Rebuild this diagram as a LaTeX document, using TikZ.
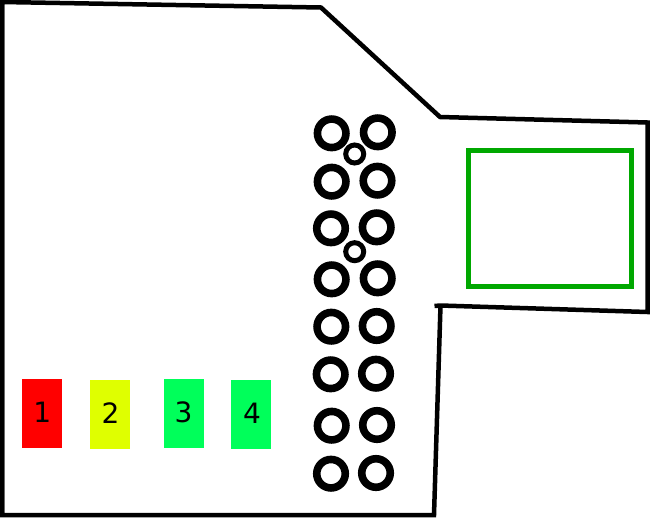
\documentclass[tikz,border=0pt]{standalone}
\usepackage{fontspec}
\setmainfont{DejaVu Sans}
\definecolor{ledred}{HTML}{FF0000}
\definecolor{ledyellow}{HTML}{DFFF00}
\definecolor{ledgreen}{HTML}{00FF5A}
\definecolor{framegreen}{HTML}{00A800}
\tikzset{
  outline/.style={draw=black,line width=4.5pt,line join=miter},
  pad/.style={circle,draw=black,line width=7.6pt,fill=white,inner sep=0pt,minimum size=28.5pt,outer sep=0pt},
  via/.style={circle,draw=black,line width=5pt,fill=white,inner sep=0pt,minimum size=18pt,outer sep=0pt},
  led/.style={rectangle,draw=none,inner sep=0pt,outer sep=0pt,minimum width=40pt,minimum height=69pt,text=black,font=\fontsize{28pt}{28pt}\selectfont}
}
\begin{document}
\begin{tikzpicture}[x=1pt,y=-1pt]
\useasboundingbox (0,0) rectangle (650,517);
\fill[white] (0,0) rectangle (650,517);
% board outline
\coordinate (a) at (2,2);
\coordinate (b) at (321,7.5);
\coordinate (c) at (440,117);
\coordinate (d) at (647.5,122.5);
\coordinate (e) at (647.5,312);
\coordinate (f) at (440.5,305.5);
\coordinate (g) at (434,515);
\coordinate (h) at (2,515);
\coordinate (s) at (434.5,306);
\draw[outline] (h) -- (a) -- (b) -- (c) -- (d) -- (e) -- (f) -- (s);
\draw[outline] (f) -- (g) -- (h) -- (a);
% green frame
\node[draw=framegreen,line width=4.8pt,rectangle,inner sep=0pt,outer sep=0pt,minimum width=163pt,minimum height=136.5pt] (frame) at (550,218.6) {};
% LEDs
\node[led,fill=ledred,minimum width=40.5pt] (l1) at (42.2,413.5) {\raisebox{2.5pt}{1}};
\node[led,fill=ledyellow] (l2) at (110,414.2) {\hspace{1pt}\raisebox{2.5pt}{2}};
\node[led,fill=ledgreen] (l3) at (183.5,413.7) {\raisebox{2.5pt}{3}};
\node[led,fill=ledgreen] (l4) at (251,414.5) {\hspace{2pt}\raisebox{2.5pt}{4}};
% pads
\node[pad] (p1) at (331.7,133.3) {};
\node[pad] (p2) at (377.8,132.3) {};
\node[pad] (p3) at (331.7,181.7) {};
\node[pad] (p4) at (377.5,180.7) {};
\node[pad] (p5) at (331,228.3) {};
\node[pad] (p6) at (376.7,227.3) {};
\node[pad] (p7) at (331.7,279.3) {};
\node[pad] (p8) at (377.7,278.3) {};
\node[pad] (p9) at (331.3,326.7) {};
\node[pad] (p10) at (376.7,326) {};
\node[pad] (p11) at (330.7,374.3) {};
\node[pad] (p12) at (376,373.7) {};
\node[pad] (p13) at (331.7,425.7) {};
\node[pad] (p14) at (377,425) {};
\node[pad] (p15) at (331,473.7) {};
\node[pad] (p16) at (376,473) {};
% vias
\node[via] (v1) at (354.7,154) {};
\node[via] (v2) at (354.7,251.7) {};
\end{tikzpicture}
\end{document}
